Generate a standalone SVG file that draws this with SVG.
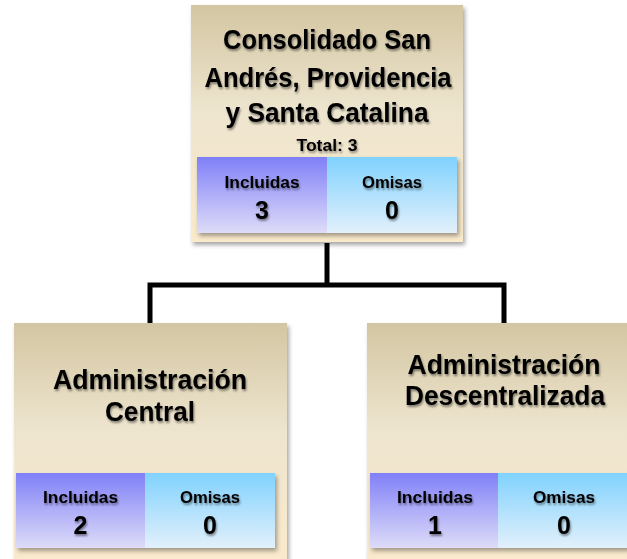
<svg xmlns="http://www.w3.org/2000/svg" width="627" height="559" viewBox="0 0 627 559">
<defs>
<linearGradient id="gNode" x1="0" y1="0" x2="0" y2="1">
<stop offset="0" stop-color="#d3c6a2"/>
<stop offset="0.45" stop-color="#eee5cf"/>
<stop offset="1" stop-color="#faeacb"/>
</linearGradient>
<linearGradient id="gInc" x1="0" y1="0" x2="0" y2="1">
<stop offset="0" stop-color="#8080f8"/>
<stop offset="1" stop-color="#dedcf8"/>
</linearGradient>
<linearGradient id="gOm" x1="0" y1="0" x2="0" y2="1">
<stop offset="0" stop-color="#80d2fe"/>
<stop offset="1" stop-color="#e2f0fb"/>
</linearGradient>
<filter id="sh" x="-10%" y="-10%" width="125%" height="125%">
<feDropShadow dx="2" dy="3" stdDeviation="2" flood-color="#000" flood-opacity="0.35"/>
</filter>
<filter id="tsh" x="-10%" y="-20%" width="125%" height="150%">
<feDropShadow dx="1" dy="2" stdDeviation="1.3" flood-color="#000" flood-opacity="0.45"/>
</filter>
</defs>
<style>
text{font-family:"Liberation Sans",Arial,sans-serif;font-weight:bold;fill:#000;text-anchor:middle;}
.t{font-size:28px;}
.s{font-size:16px;}
.l{font-size:17px;}
.n{font-size:25px;}
.node{fill:url(#gNode);}
.inc{fill:url(#gInc);}
.om{fill:url(#gOm);}
.conn{fill:none;stroke:#000;stroke-width:5;}
</style>
<g id="connectors">
<polyline class="conn" points="327,243 327,285"/>
<polyline class="conn" points="150,323 150,285 504,285 504,323"/>
</g>
<g id="root">
<rect class="node" x="191" y="5" width="272" height="237" filter="url(#sh)"/>
<g filter="url(#tsh)">
<text class="t" x="327" y="49" textLength="208" lengthAdjust="spacingAndGlyphs">Consolidado San</text>
<text class="t" x="328" y="87" textLength="247" lengthAdjust="spacingAndGlyphs">Andrés, Providencia</text>
<text class="t" x="327" y="122" textLength="203" lengthAdjust="spacingAndGlyphs">y Santa Catalina</text>
<text class="s" x="327" y="151" textLength="61" lengthAdjust="spacingAndGlyphs">Total: 3</text>
</g>
<g filter="url(#sh)">
<rect class="inc" x="197" y="157" width="130" height="76"/>
<rect class="om" x="327" y="157" width="130" height="76"/>
</g>
<g filter="url(#tsh)">
<text class="l" x="262" y="188" textLength="75" lengthAdjust="spacingAndGlyphs">Incluidas</text>
<text class="n" x="262" y="219">3</text>
<text class="l" x="392" y="188" textLength="60" lengthAdjust="spacingAndGlyphs">Omisas</text>
<text class="n" x="392" y="219">0</text>
</g>
</g>
<g id="central">
<rect class="node" x="14" y="323" width="273" height="240" filter="url(#sh)"/>
<g filter="url(#tsh)">
<text class="t" x="150" y="389" textLength="194" lengthAdjust="spacingAndGlyphs">Administración</text>
<text class="t" x="150" y="421" textLength="90" lengthAdjust="spacingAndGlyphs">Central</text>
</g>
<g filter="url(#sh)">
<rect class="inc" x="16" y="473" width="129" height="75"/>
<rect class="om" x="145" y="473" width="130" height="75"/>
</g>
<g filter="url(#tsh)">
<text class="l" x="80.5" y="503" textLength="75" lengthAdjust="spacingAndGlyphs">Incluidas</text>
<text class="n" x="80.5" y="534">2</text>
<text class="l" x="210" y="503" textLength="60" lengthAdjust="spacingAndGlyphs">Omisas</text>
<text class="n" x="210" y="534">0</text>
</g>
</g>
<g id="descentralizada">
<rect class="node" x="367" y="323" width="274" height="240" filter="url(#sh)"/>
<g filter="url(#tsh)">
<text class="t" x="504" y="374" textLength="193" lengthAdjust="spacingAndGlyphs">Administración</text>
<text class="t" x="505" y="405" textLength="200" lengthAdjust="spacingAndGlyphs">Descentralizada</text>
</g>
<g filter="url(#sh)">
<rect class="inc" x="370" y="473" width="128" height="75"/>
<rect class="om" x="498" y="473" width="132" height="75"/>
</g>
<g filter="url(#tsh)">
<text class="l" x="435" y="503" textLength="76" lengthAdjust="spacingAndGlyphs">Incluidas</text>
<text class="n" x="435" y="534">1</text>
<text class="l" x="564" y="503" textLength="62" lengthAdjust="spacingAndGlyphs">Omisas</text>
<text class="n" x="564" y="534">0</text>
</g>
</g>
</svg>
